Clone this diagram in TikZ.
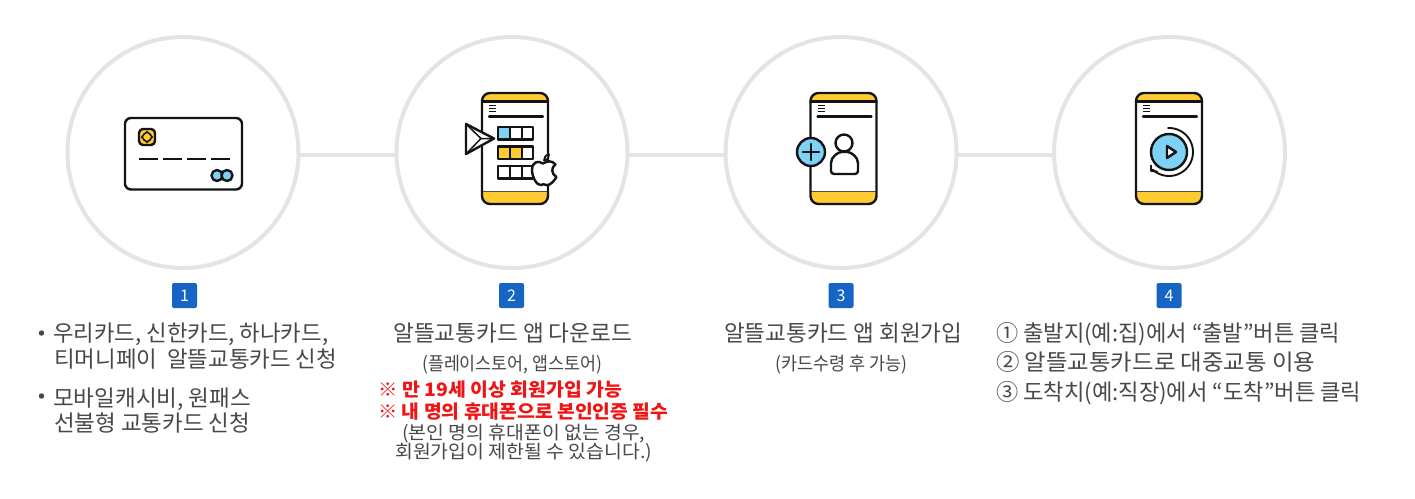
\documentclass[tikz,border=0pt]{standalone}
\usepackage{fontspec}
\usepackage{graphicx}
\setmainfont{Noto Sans CJK KR}
\usetikzlibrary{calc}
\definecolor{ring}{HTML}{E4E4E4}
\definecolor{ink}{HTML}{141414}
\definecolor{amber}{HTML}{FFCB32}
\definecolor{sky}{HTML}{7FD2F6}
\definecolor{badgeblue}{HTML}{1664C4}
\definecolor{txt}{HTML}{484848}
\definecolor{alert}{HTML}{F01414}
\newcommand\fitw[2]{\resizebox{#1pt}{\height}{#2}}
\newcommand\phoneicon[1]{%
  \begin{scope}[shift={(#1,0)}]
    \fill[white,rounded corners=8pt] (-33,93) rectangle (33,204);
    \begin{scope}
      \clip[rounded corners=8pt] (-33,93) rectangle (33,204);
      \fill[amber] (-33,93) rectangle (33,101.5);
      \fill[amber] (-33,191.5) rectangle (33,204);
    \end{scope}
    \draw[icon] (-33,101.5) -- (33,101.5);
    \draw[icon,line width=1.4pt,draw=ink!75] (-33,191.5) -- (33,191.5);
    \draw[icon,rounded corners=8pt] (-33,93) rectangle (33,204);
    \draw[icon,line width=1.8pt,line cap=butt] (-26,105.5) -- (-19,105.5) (-26,108.5) -- (-19,108.5) (-26,111.5) -- (-19,111.5);
    \draw[icon,line width=2.1pt] (-26,116.5) -- (28,116.5);
  \end{scope}}
\tikzset{
  ring/.style={circle,draw=ring,line width=4pt,fill=white,minimum size=231pt,inner sep=0pt},
  link/.style={draw=ring,line width=4pt},
  icon/.style={draw=ink,line width=2.4pt,line cap=round,line join=round},
  badge/.style={fill=badgeblue,rounded corners=2pt,minimum size=25pt,inner sep=0pt,text=white,font=\fontsize{16}{16}\selectfont},
  lab/.style={inner sep=0pt,anchor=base west,text=txt,font=\fontsize{22.5}{22.5}\selectfont},
  small/.style={lab,font=\fontsize{18.5}{18.5}\selectfont},
  warn/.style={lab,text=alert,font=\fontsize{18.5}{18.5}\selectfont\bfseries},
  dotmark/.style={circle,fill=txt,minimum size=5.5pt,inner sep=0pt}
}
\begin{document}
\begin{tikzpicture}[x=1pt,y=-1pt]
\useasboundingbox (0,0) rectangle (1415,498);
\fill[white] (0,0) rectangle (1415,498);
% rings
\node[ring] (c1) at (183,152.5) {};
\node[ring] (c2) at (512,152.5) {};
\node[ring] (c3) at (841,152.5) {};
\node[ring] (c4) at (1169.5,152.5) {};
\draw[link] (c1.-1.3) -- (c2.181.3);
\draw[link] (c2.-1.3) -- (c3.181.3);
\draw[link] (c3.-1.3) -- (c4.181.3);
% card icon
\draw[icon,fill=white,rounded corners=6pt] (125,118) rectangle (242,189.5);
\draw[icon,fill=amber,rounded corners=4pt] (139,129) rectangle (155,145);
\draw[ink,line width=1.3pt] (147,131.5) -- (152.5,137) -- (147,142.5) -- (141.5,137) -- cycle;
\draw[ink,line width=1.1pt] (147,137) circle[radius=4.5pt];
\draw[icon,line cap=butt] (139,159) -- (157.5,159) (163,159) -- (181.5,159) (187,159) -- (205.5,159) (211,159) -- (229.5,159);
\draw[icon,fill=sky] (217,175.5) circle[radius=5.5pt];
\draw[icon,fill=sky] (227,175.5) circle[radius=5.5pt];
% phone 2
\phoneicon{515}
\foreach \yy/\ca/\cb in {127/sky/white,146.5/amber/amber,166/white/white}{
  \draw[icon,fill=\ca] (498,\yy) rectangle (510,\yy+12.5);
  \draw[icon,fill=\cb] (510,\yy) rectangle (522,\yy+12.5);
  \draw[icon,fill=white] (522,\yy) rectangle (533,\yy+12.5);
}
\draw[icon,fill=white] (466,124) -- (494,138.5) -- (466,154) -- cycle;
\draw[ink,line width=1.5pt] (466,124) -- (481,138.5) -- (466,154) (481,138.5) -- (494,138.5);
% apple
\draw[icon,fill=white] (543,163.5) .. controls (538,160) and (532,162) .. (532,170) .. controls (532,177) and (537,186) .. (541,185) .. controls (543,184) and (544,184) .. (546,185) .. controls (550,186) and (554,181) .. (556.5,177) .. controls (551,174) and (551,167) .. (555.5,164.5) .. controls (552,160) and (547,161) .. (543,163.5) -- cycle;
\draw[icon,fill=white,line width=1.8pt] (544,160.5) .. controls (544,157.5) and (545.5,155) .. (549,154.5) .. controls (549,157.5) and (547.5,160) .. (544,160.5) -- cycle;
% phone 3
\phoneicon{843.5}
\draw[icon,fill=sky] (811,152) circle[radius=14pt];
\draw[icon,line width=2.6pt] (803,152) -- (819,152) (811,144) -- (811,160);
\draw[icon,fill=white] (844,143) circle[radius=8.5pt];
\draw[icon,rounded corners=3pt] (831,174) -- (831,166) .. controls (831,157) and (838,152) .. (844.5,152) .. controls (851,152) and (858,157) .. (858,166) -- (858,174) -- cycle;
% phone 4
\phoneicon{1169}
\draw[icon,fill=sky] (1169,152) circle[radius=18pt];
\draw[icon,fill=white] (1167,146) -- (1176,152) -- (1167,158) -- cycle;
\draw[icon,line width=1.9pt] plot[domain=-92:133,samples=40,smooth] ({1169+24*cos(\x)},{152+24*sin(\x)});
\draw[icon,line width=1.9pt] (1151,165.5) -- (1151,171) -- (1157,171.5);
% badges
\node[badge] (b1) at (184.5,295.5) {1};
\node[badge] (b2) at (511.5,295.5) {2};
\node[badge] (b3) at (841,295.5) {3};
\node[badge] (b4) at (1169,295.5) {4};
% column 1
\node[dotmark] (d1) at (41.5,333) {};
\node[dotmark] (d2) at (41.5,396) {};
\node[lab] (t11) at (53,341) {\fitw{275}{우리카드, 신한카드, 하나카드,}};
\node[lab] (t12) at (54,367) {\fitw{283}{티머니페이\ \ 알뜰교통카드 신청}};
\node[lab] (t13) at (53,406) {\fitw{198}{모바일캐시비, 원패스}};
\node[lab] (t14) at (54,431) {\fitw{196}{선불형 교통카드 신청}};
% column 2
\node[lab] (t21) at (393,341) {\fitw{239}{알뜰교통카드 앱 다운로드}};
\node[small] (t22) at (422,370) {\fitw{180}{(플레이스토어, 앱스토어)}};
\node[warn] (t23) at (378,396.5) {\fitw{244}{※ 만 19세 이상 회원가입 가능}};
\node[warn] (t24) at (378,418.5) {\fitw{290}{※ 내 명의 휴대폰으로 본인인증 필수}};
\node[small] (t25) at (402,439) {\fitw{243}{(본인 명의 휴대폰이 없는 경우,}};
\node[small] (t26) at (395,458.5) {\fitw{257}{회원가입이 제한될 수 있습니다.)}};
% column 3
\node[lab] (t31) at (724,341) {\fitw{238}{알뜰교통카드 앱 회원가입}};
\node[small] (t32) at (775,370) {\fitw{132}{(카드수령 후 가능)}};
% column 4
\node[lab] (t41) at (996,341) {\fitw{344}{① 출발지(예:집)에서 “출발”버튼 클릭}};
\node[lab] (t42) at (996,370) {\fitw{319}{② 알뜰교통카드로 대중교통 이용}};
\node[lab] (t43) at (996,400) {\fitw{365}{③ 도착치(예:직장)에서 “도착”버튼 클릭}};
\end{tikzpicture}
\end{document}
